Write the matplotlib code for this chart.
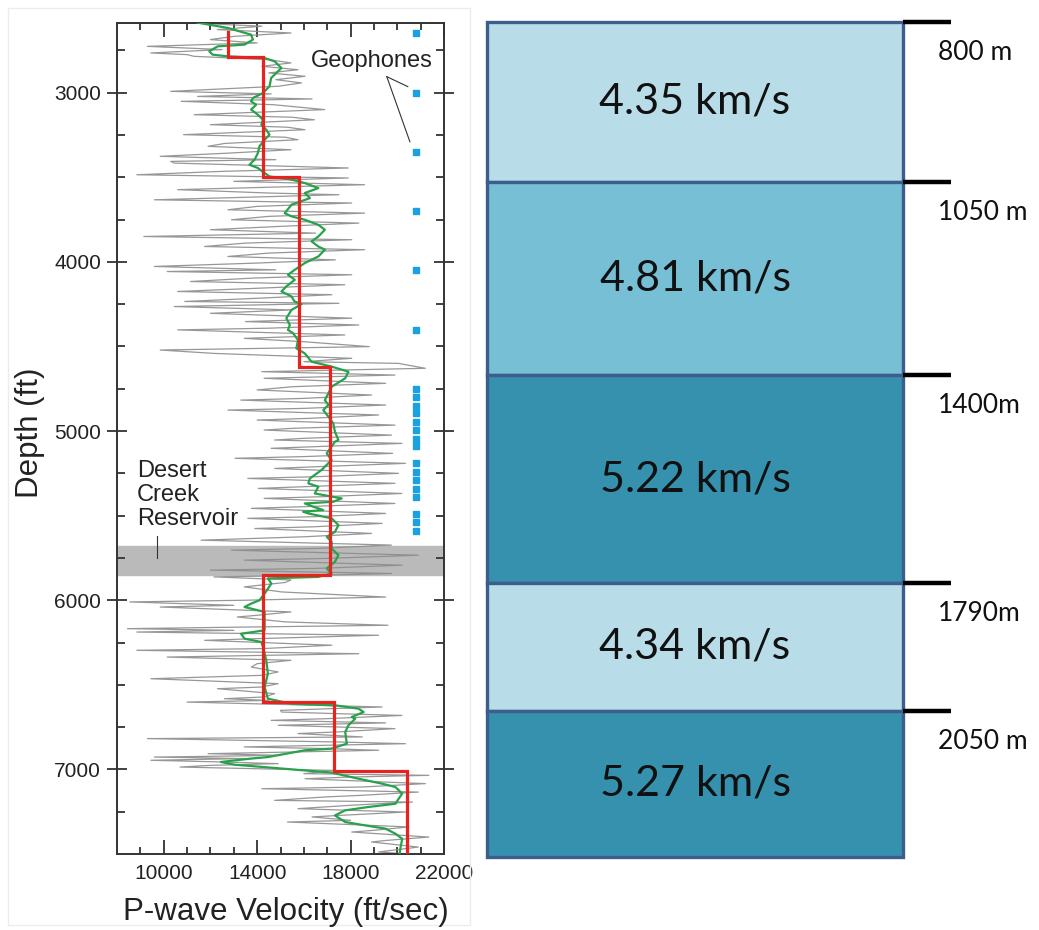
import numpy as np
import matplotlib.pyplot as plt
from matplotlib.patches import Rectangle

# sonic log, raw samples (depth ft, P-wave velocity ft/s)
log_depth_ft = [
    2590, 2607, 2627, 2647, 2667, 2686, 2706, 2726, 2745, 2765, 2775, 2785,
    2805, 2824, 2844, 2864, 2883, 2903, 2923, 2942, 2962, 2992, 3007, 3022,
    3037, 3051, 3071, 3100, 3130, 3145, 3160, 3189, 3204, 3219, 3248, 3263,
    3278, 3300, 3317, 3337, 3357, 3376, 3396, 3406,
    3416, 3445, 3465, 3485, 3504, 3524, 3544, 3573, 3593, 3603, 3633, 3652,
    3672, 3692, 3712, 3731, 3751, 3771, 3790, 3810, 3830, 3850, 3869, 3889,
    3909, 3928, 3948, 3968, 3988, 4007, 4027, 4047, 4057, 4076, 4096, 4116,
    4135, 4155, 4175, 4194, 4214, 4234,
    4245, 4264, 4284, 4304, 4333, 4353, 4373, 4392, 4402, 4432, 4452, 4472,
    4501, 4521, 4541, 4570, 4590, 4600, 4629, 4649, 4669, 4688, 4718, 4738,
    4757, 4787, 4807, 4817, 4846, 4866, 4876, 4905, 4925, 4935, 4965, 4984,
    4994, 5024, 5043, 5053,
    5073, 5092, 5102, 5132, 5151, 5161, 5191, 5211, 5221, 5250, 5270, 5280,
    5309, 5329, 5339, 5369, 5388, 5398, 5428, 5447, 5457, 5487, 5506, 5516,
    5546, 5566, 5576, 5605, 5625, 5645, 5674, 5694, 5704, 5734, 5753, 5763,
    5793, 5812, 5822, 5842, 5852, 5862, 5880,
    5895, 5921, 5951, 5981, 6000, 6010, 6030, 6040, 6069, 6089, 6099, 6128,
    6148, 6158, 6168, 6178, 6188, 6207, 6227, 6237, 6266, 6286, 6296, 6316,
    6336, 6355, 6375, 6395, 6424, 6444, 6464, 6493, 6513, 6523, 6552, 6572,
    6582, 6592, 6602, 6631, 6651, 6661, 6681, 6700, 6710,
    6725, 6739, 6759, 6778, 6788, 6808, 6818, 6838, 6848, 6867, 6877, 6887,
    6907, 6917, 6927, 6936, 6946, 6956, 6966, 6976, 6986, 7006, 7025, 7035,
    7045, 7055, 7075, 7084, 7104, 7114, 7134, 7153, 7163, 7183, 7193, 7212,
    7232, 7252, 7272, 7281, 7301, 7311, 7340, 7360, 7370, 7400, 7420, 7429,
    7459, 7478, 7488, 7500,
]
log_vel_fts = [
    11500, 14200, 12300, 15450, 13000, 12000, 14000, 9300, 12500, 9450, 11000, 11300,
    14500, 15450, 14200, 15750, 14500, 16050, 14800, 15900, 14900, 10300, 14600, 11450,
    16350, 10750, 14700, 16900, 11300, 15500, 16450, 12000, 15300, 16050, 10850, 15200,
    15750, 12600, 11900, 15450, 12800, 9850, 14800, 10300,
    10450, 17900, 12500, 8850, 17900, 13000, 18600, 10600, 14500, 17500, 9600, 18050,
    14000, 12750, 18600, 14500, 12900, 18350, 15000, 12000, 16500, 9150, 18050, 13500,
    11750, 18600, 14500, 12750, 17350, 14000, 9600, 14800, 10150, 18050, 13800, 11150,
    17750, 14200, 10600, 17200, 14200, 10900,
    17500, 10450, 15500, 12000, 18050, 13500, 18350, 14500, 10600, 17750, 13450, 16000,
    18800, 9850, 12150, 18050, 16000, 20050, 21200, 14200, 19900, 14300, 19500, 15500,
    14000, 18900, 16000, 13300, 19500, 16000, 12750, 19200, 16200, 14000, 19900, 15500,
    14300, 19750, 16000, 14750,
    20200, 16500, 14600, 19800, 16000, 13050, 20350, 16500, 14750, 20050, 16500, 13600,
    19900, 16000, 14050, 20200, 16800, 14300, 19900, 16000, 13750, 19500, 16500, 13600,
    19350, 16400, 13900, 18900, 16000, 11600, 19750, 16500, 12900, 20900, 16900, 13450,
    20200, 16500, 12000, 19750, 16800, 12150, 15450,
    15200, 13450, 15050, 19500, 13500, 8550, 13000, 9850, 15450, 14000, 13150, 15200,
    19600, 13800, 8450, 13000, 8850, 19200, 14000, 11750, 17200, 14200, 8850, 18350,
    10150, 15450, 14000, 13750, 14900, 14200, 9450, 14900, 14200, 12300, 14750, 14300,
    12600, 14500, 11000, 19350, 15000, 15050, 20200, 17000, 14600,
    19500, 14900, 19900, 17500, 15750, 18500, 9300, 17500, 20350, 13450, 17000, 19200,
    11900, 15000, 9600, 13500, 9450, 12500, 14900, 12000, 10700, 17300, 16000, 21350,
    18000, 16050, 19500, 21200, 18500, 14200, 20900, 18500, 16900, 14750, 20650, 18000,
    15750, 20350, 17500, 16350, 18000, 15300, 20500, 19000, 18050, 21350, 19500, 18900,
    20900, 19800, 19200, 20500,
]

# smoothed log
smooth_depth_ft = [
    2586, 2617, 2657, 2686, 2716, 2726, 2755, 2775, 2785, 2795, 2815, 2854,
    2874, 2913, 2962, 3002, 3031, 3051, 3071, 3100, 3130, 3160, 3189, 3219,
    3248, 3278, 3317, 3357, 3396, 3426, 3445, 3475, 3495, 3514, 3534, 3564,
    3593, 3623, 3662, 3712, 3731, 3751, 3781, 3810, 3850, 3879, 3909, 3928,
    3968, 4007, 4047, 4076, 4106, 4145, 4175, 4204, 4234, 4250, 4284, 4333,
    4373, 4402, 4422, 4462, 4511, 4541, 4590, 4619, 4649, 4688, 4738, 4777,
    4817, 4846, 4876, 4915, 4955, 5004, 5053, 5063, 5132, 5171, 5230, 5280,
    5309, 5329, 5369, 5398, 5418, 5428, 5447, 5467, 5477, 5487, 5516, 5556,
    5596, 5625, 5655, 5694, 5734, 5773, 5812, 5842, 5862, 5871, 5901, 5961,
    6000, 6020, 6040, 6069, 6178, 6198, 6227, 6247, 6276, 6355, 6434, 6513,
    6582, 6612, 6621, 6641, 6661, 6690, 6700, 6739, 6779, 6848, 6877, 6887,
    6927, 6936, 6956, 6972, 6996, 7019, 7055, 7084, 7104, 7143, 7173, 7203,
    7222, 7242, 7272, 7311, 7331, 7350, 7380, 7410, 7469, 7500,
]
smooth_vel_fts = [
    11450, 12740, 13740, 13820, 13460, 12310, 11950, 12090, 12740, 14320, 14750, 15040,
    14890, 14600, 14530, 14250, 13820, 13740, 13960, 13740, 14030, 14250, 14180, 14390,
    14530, 14320, 14100, 14030, 13890, 13670, 14030, 14320, 14530, 15470, 16040, 16620,
    16040, 16260, 15470, 15180, 15470, 16040, 16620, 16900, 16620, 16330, 16620, 16900,
    16620, 16040, 15610, 15320, 15610, 15250, 15040, 15470, 15600, 15900, 15470, 15250,
    15400, 15320, 15540, 15750, 15680, 16040, 16330, 17190, 17910, 17770, 17190, 17050,
    16900, 17050, 16830, 17050, 17260, 17330, 17480, 17330, 16980, 17190, 16760, 16260,
    16190, 16620, 16470, 17620, 17260, 16040, 16400, 16830, 15970, 16190, 17190, 17480,
    17330, 16980, 17190, 17190, 17480, 17330, 16980, 17190, 16620, 14460, 14610, 14320,
    14100, 13740, 13460, 14320, 14320, 13310, 13460, 14180, 14250, 14390, 14460, 14320,
    14460, 15470, 17330, 18340, 18560, 18050, 18200, 17910, 17770, 17840, 17190, 16040,
    14460, 13740, 12450, 13030, 15180, 17190, 18340, 19340, 19920, 20210, 20060, 19920,
    18770, 17770, 17330, 17770, 18630, 19490, 19920, 20210, 20130, 20100,
]

# blocky interval velocities
block_top_ft = [2640, 2790, 3500, 4620, 5850, 6600, 7010]
block_base_ft = 7500
first_block_fts = 12750
last_block_fts = 20400

# layer model (right panel)
layer_kms = [4.35, 4.81, 5.22, 4.34, 5.27]
layer_top_labels = ['800 m', '1050 m', '1400m', '1790m', '2050 m']
layer_colors = ['#b8dde8', '#76bfd4', '#3591ad', '#b8dde8', '#3591ad']

geophone_depth_ft = [2645, 3000, 3350, 3700, 4050, 4400,
                     4750, 4800, 4850, 4895, 4945, 4995, 5045, 5090,
                     5190, 5240, 5290, 5340, 5390, 5490, 5540, 5590]
geophone_vel_fts = 20800
reservoir_ft = (5680, 5850)

FT_PER_KM = 3280.84

W, H = 1039, 930
fig = plt.figure(figsize=(W / 100, H / 100), dpi=100)
plt.rcParams['font.family'] = ['Liberation Sans', 'DejaVu Sans']

# faint frame around the log panel
fig.patches.append(Rectangle((8 / W, 1 - 925 / H), 462 / W, 917 / H,
                             transform=fig.transFigure, fill=False,
                             edgecolor='#ececec', linewidth=1))

ax = fig.add_axes([117 / W, 1 - 854 / H, 327 / W, 831 / H])
ax.set_xlim(8000, 22000)
ax.set_ylim(7500, 2588)

ax.axhspan(*reservoir_ft, color='#bababa', zorder=1)
ax.plot(log_vel_fts, log_depth_ft, color='#8c8c8c', lw=0.9, alpha=0.9, zorder=2)
ax.plot(smooth_vel_fts, smooth_depth_ft, color='#27a24b', lw=1.6, zorder=3)

block_vel = [first_block_fts] + [v * FT_PER_KM for v in layer_kms] + [last_block_fts]
edges = block_top_ft + [block_base_ft]
step_y = np.repeat(edges, 2)[1:-1]
step_x = np.repeat(block_vel, 2)
ax.plot(step_x, step_y, color='#e8231f', lw=2.3, zorder=4, solid_joinstyle='miter')

ax.plot([geophone_vel_fts] * len(geophone_depth_ft), geophone_depth_ft, 's',
        color='#1ba1e2', ms=5, zorder=5)

ax.text(18900, 2811, 'Geophones', fontsize=17, color='#222222',
        ha='center', va='center')
ax.plot([19550, 20450], [2905, 2964], color='#333333', lw=0.8)
ax.plot([19550, 20540], [2905, 3290], color='#333333', lw=0.8)

ax.text(8860, 5380, 'Desert\nCreek\nReservoir', fontsize=17, color='#222222',
        ha='left', va='center', linespacing=1.12)
ax.plot([9710, 9710], [5621, 5751], color='#333333', lw=0.8)

ax.set_xticks([10000, 14000, 18000, 22000])
ax.set_xticks(np.arange(9000, 22000, 1000), minor=True)
ax.set_yticks([3000, 4000, 5000, 6000, 7000])
ax.set_yticks(np.arange(2750, 7500, 250), minor=True)
ax.tick_params(axis='x', which='both', direction='in', top=True, labelsize=15,
               colors='#333333', labelcolor='#222222', pad=7)
ax.tick_params(axis='x', which='major', length=10, width=1.3)
ax.tick_params(axis='x', which='minor', length=5, width=1.3)
ax.tick_params(axis='y', which='major', direction='inout', right=True,
               length=15, width=1.3, labelsize=15, colors='#333333',
               labelcolor='#222222', pad=4)
ax.tick_params(axis='y', which='minor', direction='in', right=True,
               length=6, width=1.3, colors='#333333')
for s in ax.spines.values():
    s.set_color('#333333')
    s.set_linewidth(1.4)

fig.text(286 / W, 1 - 912 / H, 'P-wave Velocity (ft/sec)', fontsize=22.5,
         color='#222222', ha='center', va='center')
fig.text(30 / W, 1 - 433 / H, 'Depth (ft)', fontsize=22.5, color='#222222',
         ha='center', va='center', rotation=90)

# layered velocity model
bx = fig.add_axes([487 / W, 1 - 857 / H, 416 / W, 835 / H])
bx.set_xlim(0, 1)
bx.set_ylim(1, 0)
bx.axis('off')
box_edges = [0, 0.1916, 0.4228, 0.6719, 0.8251, 1.0]
for i, kms in enumerate(layer_kms):
    y0, y1 = box_edges[i], box_edges[i + 1]
    bx.add_patch(Rectangle((0, y0), 1, y1 - y0, facecolor=layer_colors[i],
                           edgecolor='#3d5e8c', linewidth=2.4, clip_on=False))
    bx.text(0.5, (y0 + y1) / 2, f'{kms:.2f} km/s', fontsize=31, family='Lato',
            ha='center', va='center', color='#111111')
    bx.plot([1, 1.115], [y0, y0], color='black', lw=3.2, clip_on=False,
            solid_capstyle='butt')
    bx.text(1.084, y0 + 0.037, layer_top_labels[i], fontsize=19, family='Lato',
            ha='left', va='center', color='#111111')

fig.savefig('out.png', dpi=100)
